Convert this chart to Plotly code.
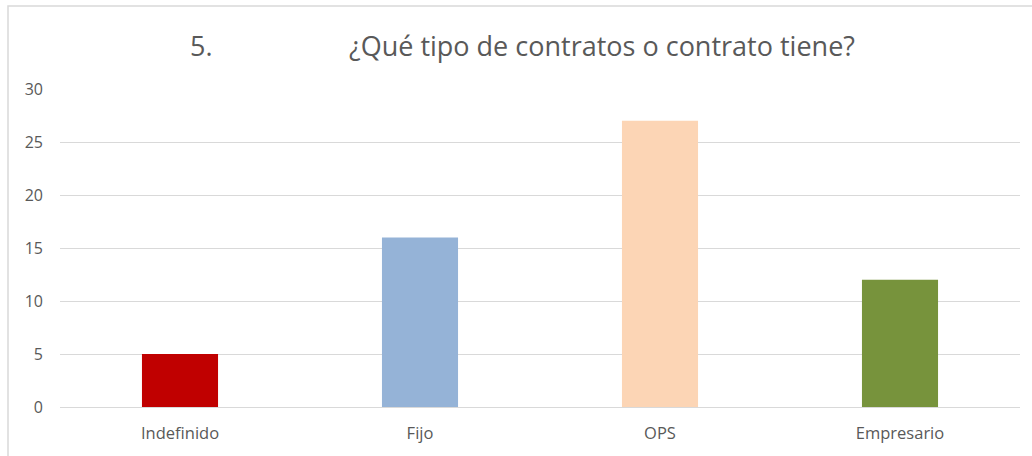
import plotly.graph_objects as go

categories = ["Indefinido", "Fijo", "OPS", "Empresario"]
values = [5, 16, 27, 12]
colors = ["#C00000", "#95B3D7", "#FCD5B5", "#77933C"]
title_num = "5."
title_text = "¿Qué tipo de contratos o contrato tiene?"

W, H = 1032, 456
L, R, T, B = 60, 12, 89, 49
pw, ph = W - L - R, H - T - B

def px_x(p):
    return (p - L) / pw

def px_y(p):
    return (H - B - p) / ph

fig = go.Figure(go.Bar(
    x=categories, y=values, marker=dict(color=colors, line=dict(width=0)),
    width=0.317, hoverinfo="x+y"))

fig.update_layout(
    width=W, height=H,
    margin=dict(l=L, r=R, t=T, b=B, autoexpand=False),
    plot_bgcolor="white", paper_bgcolor="white",
    showlegend=False,
    font=dict(family="Open Sans, Liberation Sans, sans-serif", color="#595959", size=16),
    xaxis=dict(showgrid=False, showline=False, ticks="", ticklabelstandoff=14,
               tickfont=dict(size=16.5, color="#595959")),
    yaxis=dict(range=[0, 30], dtick=5, showgrid=True, gridcolor="#D9D9D9", gridwidth=1,
               zeroline=True, zerolinecolor="#D9D9D9", zerolinewidth=1,
               showline=False, ticks="", ticklabelstandoff=16,
               tickfont=dict(size=16, color="#595959")),
    annotations=[
        dict(text=title_num, x=px_x(201), y=px_y(45), xref="paper", yref="paper",
             showarrow=False, xanchor="center", yanchor="middle",
             font=dict(size=27, color="#595959")),
        dict(text=title_text, x=px_x(347), y=px_y(45), xref="paper", yref="paper",
             showarrow=False, xanchor="left", yanchor="middle",
             font=dict(size=27, color="#595959")),
    ],
    shapes=[
        dict(type="rect", xref="paper", yref="paper",
             x0=px_x(8), x1=px_x(W + 20), y0=px_y(H + 20), y1=px_y(6),
             line=dict(color="#D9D9D9", width=1.5), fillcolor="rgba(0,0,0,0)", layer="below"),
    ],
)

fig.write_html("out.html", config={"displayModeBar": False},
               post_script="document.body.style.margin='0';")
